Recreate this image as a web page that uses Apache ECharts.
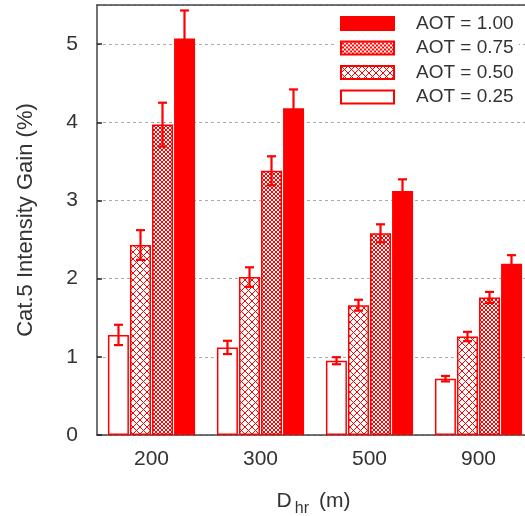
<!DOCTYPE html>
<html>
<head>
<meta charset="utf-8">
<script src="https://cdn.jsdelivr.net/npm/echarts@6/dist/echarts.min.js"></script>
<style>html,body{margin:0;padding:0;background:#fff;}#chart{width:525px;height:516px;}</style>
</head>
<body>
<div id="chart"></div>
<script>
const categories = ['200', '300', '500', '900'];
const yTicks = [0, 1, 2, 3, 4, 5];
const aot025 = [1.28, 1.12, 0.95, 0.72];
const aot050 = [2.43, 2.02, 1.66, 1.26];
const aot075 = [3.97, 3.38, 2.58, 1.76];
const aot100 = [5.07, 4.18, 3.12, 2.19];
const err025 = [0.13, 0.085, 0.045, 0.035];
const err050 = [0.19, 0.125, 0.07, 0.06];
const err075 = [0.28, 0.185, 0.115, 0.07];
const err100 = [0.36, 0.24, 0.15, 0.11];
const seriesNames = ['AOT = 0.25', 'AOT = 0.50', 'AOT = 0.75', 'AOT = 1.00'];

function makePattern(size, draw) {
  const c = document.createElement('canvas');
  c.width = size; c.height = size;
  const ctx = c.getContext('2d');
  ctx.fillStyle = '#fff';
  ctx.fillRect(0, 0, size, size);
  ctx.strokeStyle = '#ff0000';
  ctx.lineWidth = 1;
  draw(ctx, size);
  return c;
}
const crossPat = makePattern(7, (ctx, s) => {
  ctx.beginPath();
  ctx.moveTo(0, 0); ctx.lineTo(s, s);
  ctx.moveTo(s, 0); ctx.lineTo(0, s);
  ctx.stroke();
});
const finePat = makePattern(4, (ctx, s) => {
  ctx.beginPath();
  ctx.moveTo(0, 0); ctx.lineTo(s, s);
  ctx.moveTo(s, 0); ctx.lineTo(0, s);
  ctx.stroke();
});

const RED = '#ff0000';
const fills = ['#ffffff', {image: crossPat, repeat: 'repeat'}, {image: finePat, repeat: 'repeat'}, RED];
const values = [aot025, aot050, aot075, aot100];
const errs = [err025, err050, err075, err100];
const offsets = [-33, -11, 11, 33];
const BW = 21;

const series = [];
values.forEach((v, i) => {
  series.push({
    name: seriesNames[i],
    type: 'bar',
    data: v,
    barWidth: BW,
    barGap: '5%',
    itemStyle: {color: fills[i], borderColor: RED, borderWidth: 1.5},
    emphasis: {disabled: true},
    z: 2
  });
});
values.forEach((v, i) => {
  series.push({
    type: 'custom',
    z: 5,
    data: v.map((val, k) => [k, val - errs[i][k], val + errs[i][k]]),
    renderItem: function (params, api) {
      const lo = api.coord([api.value(0), api.value(1)]);
      const hi = api.coord([api.value(0), api.value(2)]);
      const x = lo[0] + offsets[i];
      const cw = 4.5;
      const st = {stroke: RED, lineWidth: 2.2};
      return {
        type: 'group',
        children: [
          {type: 'line', shape: {x1: x, y1: lo[1], x2: x, y2: hi[1]}, style: st},
          {type: 'line', shape: {x1: x - cw, y1: lo[1], x2: x + cw, y2: lo[1]}, style: st},
          {type: 'line', shape: {x1: x - cw, y1: hi[1], x2: x + cw, y2: hi[1]}, style: st}
        ]
      };
    }
  });
});

const chart = echarts.init(document.getElementById('chart'));
const TXT = '#333';
chart.setOption({
  animation: false,
  backgroundColor: '#fff',
  textStyle: {fontFamily: 'Liberation Sans, Arial, sans-serif'},
  grid: {left: 97, top: 5, width: 436, height: 430, containLabel: false, outerBoundsMode: 'none'},
  legend: {
    orient: 'vertical',
    left: 335,
    top: 12,
    data: ['AOT = 1.00', 'AOT = 0.75', 'AOT = 0.50', 'AOT = 0.25'],
    icon: 'rect',
    itemWidth: 53,
    itemHeight: 13,
    itemGap: 5.5,
    padding: [2, 5, 2, 5],
    backgroundColor: '#fff',
    textStyle: {fontSize: 19, color: TXT, padding: [0, 0, 0, 17]},
    selectedMode: false
  },
  xAxis: [{
    type: 'category',
    data: categories,
    position: 'bottom',
    axisLine: {lineStyle: {color: '#444', width: 1.5}},
    axisTick: {inside: true, alignWithLabel: true, length: 5, lineStyle: {color: '#222', width: 1.5}},
    axisLabel: {fontSize: 21, color: TXT, margin: 14},
    name: '{d|D}{s|hr}{m|(m)}',
    nameLocation: 'middle',
    nameGap: 56,
    nameTextStyle: {
      color: TXT,
      padding: [0, 3, 0, 0],
      rich: {
        d: {fontSize: 21, color: TXT, verticalAlign: 'top'},
        s: {fontSize: 16, color: TXT, verticalAlign: 'top', padding: [10, 0, 0, 3]},
        m: {fontSize: 21, color: TXT, verticalAlign: 'top', padding: [0, 0, 0, 10]}
      }
    }
  }, {
    type: 'category',
    data: categories,
    position: 'top',
    axisLine: {lineStyle: {color: '#444', width: 1.5}},
    axisTick: {inside: true, alignWithLabel: true, length: 5, lineStyle: {color: '#222', width: 1.5}},
    axisLabel: {show: false}
  }],
  yAxis: {
    type: 'value',
    min: 0,
    max: 5.5,
    interval: 1,
    axisLine: {show: true, lineStyle: {color: '#444', width: 1.5}},
    axisTick: {show: true, inside: true, length: 5, lineStyle: {color: '#222', width: 1.5}},
    axisLabel: {fontSize: 21, color: TXT, margin: 19, showMaxLabel: false,
      formatter: v => (yTicks.indexOf(v) >= 0 ? String(v) : '')},
    splitLine: {show: true, lineStyle: {color: '#aaa', width: 1, type: [3, 3]}},
    name: 'Cat.5 Intensity Gain (%)',
    nameLocation: 'middle',
    nameGap: 60,
    nameTextStyle: {fontSize: 22, color: TXT}
  },
  series: series
});
</script>
</body>
</html>
